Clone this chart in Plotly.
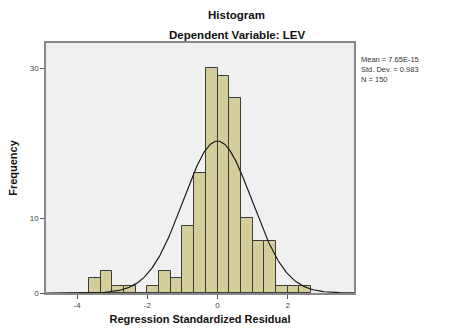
import numpy as np
import plotly.graph_objects as go

# Histogram bins (left edges in thirds) and counts
bin_width = 1.0 / 3.0
bin_left_edges = [-11/3, -10/3, -3.0, -8/3, -7/3, -2.0, -5/3, -4/3, -1.0, -2/3, -1/3,
                  0.0, 1/3, 2/3, 1.0, 4/3, 5/3, 2.0, 7/3]
counts = [2, 3, 1, 1, 0, 1, 3, 2, 9, 16, 30, 29, 26, 10, 7, 7, 1, 1, 1]

mean_val = 7.65e-15
std_val = 0.983
n_val = 150

x_tickvals = [-4, -2, 0, 2]
y_tickvals = [0, 10, 30]

centers = [e + bin_width / 2 for e in bin_left_edges]

xs = np.linspace(-4.9, 3.9, 300)
ys = n_val * bin_width / (std_val * np.sqrt(2 * np.pi)) * np.exp(-0.5 * ((xs - mean_val) / std_val) ** 2)

fig = go.Figure()
fig.add_trace(go.Bar(
    x=centers, y=counts, width=bin_width,
    marker=dict(color="#D4CF9A", line=dict(color="#3c3c3c", width=1)),
    showlegend=False, hoverinfo="skip",
))
fig.add_trace(go.Scatter(
    x=xs, y=ys, mode="lines",
    line=dict(color="#1a1a1a", width=1.2),
    showlegend=False, hoverinfo="skip",
))

L, R, T, B = 44, 119, 43, 40
pw = 473 - L - R
ph = 336 - T - B
def px_to_paper(px, py):
    return (px - L) / pw, (336 - B - py) / ph

ax, ay = px_to_paper(236, 15)
bx, by = px_to_paper(236, 35)
cx, cy = px_to_paper(359, 70)

fig.update_layout(
    width=473, height=336,
    margin=dict(l=L, r=R, t=T, b=B),
    paper_bgcolor="white",
    plot_bgcolor="#F0F0F0",
    bargap=0,
    font=dict(family="Liberation Sans, Arial, sans-serif", color="#333333", size=8),
    xaxis=dict(
        range=[-4.89, 3.89], tickvals=x_tickvals, ticktext=[str(v) for v in x_tickvals],
        showgrid=False, zeroline=False,
        ticks="outside", ticklen=4, tickcolor="#555555", tickwidth=1,
        showline=True, linecolor="#888888", linewidth=1.5, mirror=True,
        tickfont=dict(size=8, color="#444444"),
        title=dict(text="<b>Regression Standardized Residual</b>",
                   font=dict(size=11, color="#111111"), standoff=6),
    ),
    yaxis=dict(
        range=[0, 33.4], tickvals=y_tickvals,
        showgrid=False, zeroline=False,
        ticks="outside", ticklen=4, tickcolor="#555555", tickwidth=1,
        showline=True, linecolor="#888888", linewidth=1.5, mirror=True,
        tickfont=dict(size=8, color="#444444"),
        title=dict(text="<b>Frequency</b>", font=dict(size=11, color="#111111"), standoff=10),
    ),
    annotations=[
        dict(text="<b>Histogram</b>", x=ax, y=ay, xref="paper", yref="paper",
             showarrow=False, font=dict(size=11.5, color="#111111"), yanchor="middle"),
        dict(text="<b>Dependent Variable: LEV</b>", x=bx, y=by, xref="paper", yref="paper",
             showarrow=False, font=dict(size=11.5, color="#111111"), yanchor="middle"),
        dict(text="Mean = 7.65E-15<br>Std. Dev. = 0.983<br>N = 150", x=cx, y=cy,
             xref="paper", yref="paper", showarrow=False, xanchor="left", yanchor="middle",
             align="left", font=dict(size=7.5, color="#333333")),
    ],
)

fig.write_html("out.html")
